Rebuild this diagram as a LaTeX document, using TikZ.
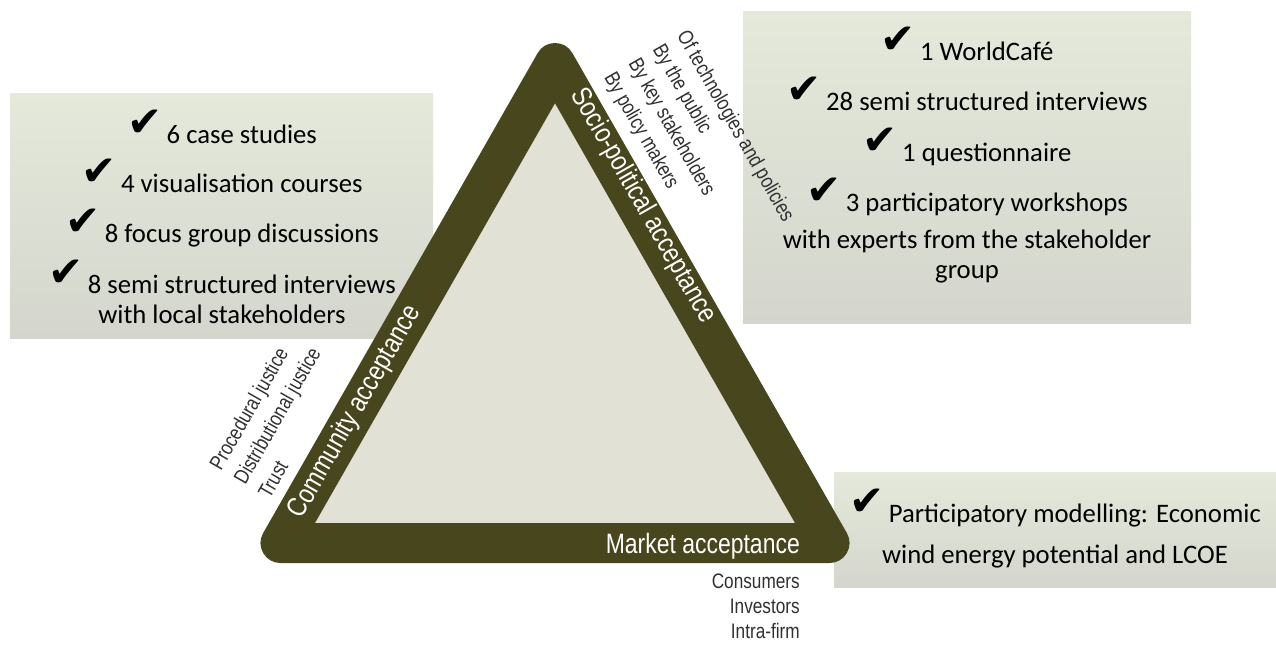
\documentclass[tikz,border=0pt]{standalone}
\usepackage{fontspec}
\setmainfont{Carlito}
\newfontfamily\condfont[FakeStretch=0.82]{Liberation Sans}
\newfontfamily\symfont{DejaVu Sans}

\definecolor{bandolive}{HTML}{48461C}
\definecolor{innergrey}{HTML}{E1E1D5}
\definecolor{boxtop}{HTML}{E4E9DA}
\definecolor{boxbottom}{HTML}{D4D6CD}
\definecolor{labelgrey}{HTML}{303030}

\newcommand{\chkmark}{\smash{\raisebox{7pt}{\fontsize{42}{42}\selectfont\symfont\char"2714}}\,}

\begin{document}
\begin{tikzpicture}[x=1pt, y=-1pt,
                    band/.style={draw=bandolive, line width=40pt, line join=round, fill=innergrey},
                    boxfill/.style={top color=boxtop, bottom color=boxbottom},
                    boxtext/.style={align=center, anchor=base, inner sep=0,
                                    font=\fontsize{26.7}{30}\selectfont},
                    bandlabel/.style={text=white, inner sep=0,
                                      font=\condfont\fontsize{28}{32}\selectfont},
                    sidelabel/.style={text=labelgrey, inner sep=0,
                                      font=\condfont\fontsize{21}{25}\selectfont},
                    slantlabel/.style={sidelabel, align=left,
                                       font=\condfont\fontsize{21}{28}\selectfont}]

  \useasboundingbox (0,0) rectangle (1276,646);

  % Shaded boxes behind everything
  \shade[boxfill] (10,93) rectangle (433,338);
  \shade[boxfill] (743,11) rectangle (1191,323);
  \shade[boxfill] (834,472) rectangle (1276,587);

  % The acceptance triangle
  \coordinate (apex) at (555,63);
  \coordinate (left corner) at (280.5,543);
  \coordinate (right corner) at (829.5,543);
  \draw[band] (apex) -- (left corner) -- (right corner) -- cycle;

  % Labels on the three sides
  \node[bandlabel, rotate=60.3] (community) at (355,412) {Community acceptance};
  \node[bandlabel, rotate=-60.3] (sociopolitical) at (643,206) {Socio-political acceptance};
  \node[bandlabel, anchor=base east] (market) at (800,553) {Market acceptance};

  % Sub-items next to each side
  \node[slantlabel, rotate=60.3, anchor=south west] (community items)
       at (270,500) {Procedural justice\\Distributional justice\\Trust};
  \node[slantlabel, rotate=-60.3, anchor=north west] (sociopolitical items)
       at (690,28) {Of technologies and policies\\By the public\\By key stakeholders\\By policy makers};
  \node[sidelabel, align=right, anchor=base east] (market items)
       at (800,638) {Consumers\\Investors\\Intra-firm};

  % Methods used for each kind of acceptance (base = last line)
  \node[boxtext] (community methods) at (222,323)
       {\chkmark 6 case studies\\[19pt]
        \chkmark 4 visualisation courses\\[20pt]
        \chkmark 8 focus group discussions\\[21pt]
        \chkmark 8 semi structured interviews\\
        with local stakeholders};
  \node[boxtext] (sociopolitical methods) at (967,278)
       {\chkmark 1 WorldCafé\\[20pt]
        \chkmark 28 semi structured interviews\\[21pt]
        \chkmark 1 questionnaire\\[20pt]
        \chkmark 3 participatory workshops\\[7pt]
        with experts from the stakeholder\\
        group};
  \node[boxtext] (market methods) at (1055,563)
       {\chkmark Participatory modelling: Economic\\[11pt]
        wind energy potential and LCOE};

\end{tikzpicture}
\end{document}
